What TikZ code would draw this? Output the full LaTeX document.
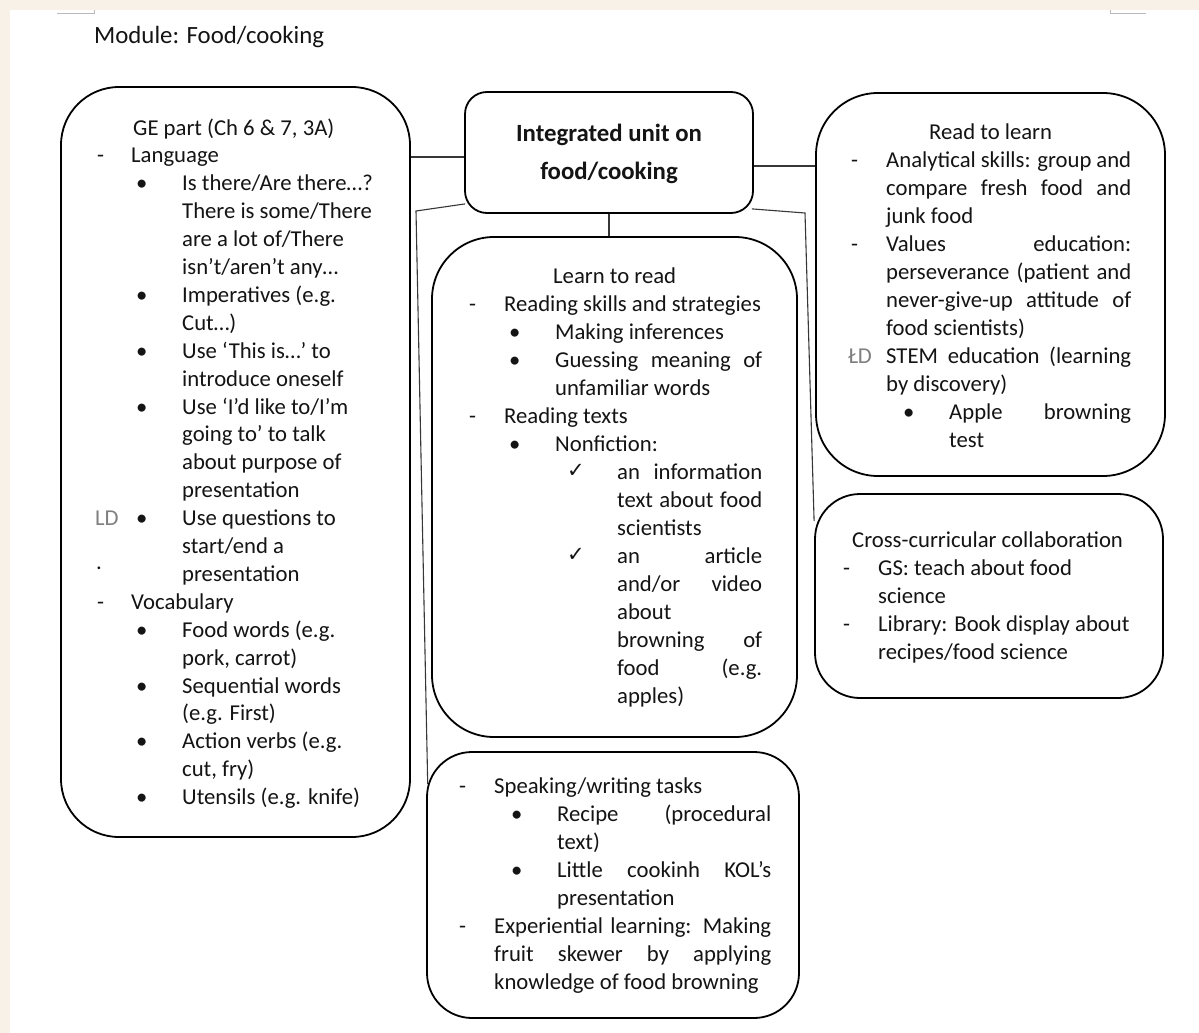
\documentclass[tikz,border=0pt]{standalone}
\usepackage{fontspec}
\setmainfont{Carlito}
\newfontfamily\symf{DejaVu Sans}
\usetikzlibrary{calc}
\definecolor{cream}{HTML}{F8F1E7}
\definecolor{ink}{HTML}{141414}
\definecolor{ldgray}{HTML}{7F7F7F}
\definecolor{markgray}{HTML}{B8B8B8}
\newcounter{tn}
\newcommand\bodyf{\fontsize{22.7}{28}\selectfont}
\newcommand\headf{\fontsize{24.8}{30}\selectfont}
\newcommand\tl[4][]{\stepcounter{tn}\node[txt,#1] (t\arabic{tn}) at (#2,#3) {#4};}
\newcommand\jl[4]{\stepcounter{tn}\node[txt] (t\arabic{tn}) at (#1,#3) {\makebox[\dimexpr#2pt-#1pt\relax][s]{#4}};}
\newcommand\chk[2]{\stepcounter{tn}\node[txt] (t\arabic{tn}) at (#1,#2) {\symf\fontsize{21}{21}\selectfont ✓};}
\begin{document}
\begin{tikzpicture}[x=1pt,y=-1pt,
  box/.style={draw=black, line width=1.8pt, rounded corners=#1, inner sep=0pt},
  conn/.style={draw=ink!85, line width=1.1pt},
  txt/.style={anchor=base west, inner sep=0pt, font=\bodyf, text=ink}]
\useasboundingbox (0,0) rectangle (1199,1033);
\fill[cream] (0,0) rectangle (1199,1033);
\fill[white] (10,10) rectangle (1199,1033);
% page corner marks
\draw[markgray, line width=1pt] (57,14) -- (94,14) -- (94,10);
\draw[markgray, line width=1pt] (1146,14) -- (1110,14) -- (1110,10);

\node[txt, font=\headf] (module) at (94,44) {Module: Food/cooking};

% boxes
\node[box=58pt, minimum width=349pt, minimum height=750pt] (ge) at (235.5,462) {};
\node[box=22pt, minimum width=288pt, minimum height=121pt] (central) at (609,152.5) {};
\node[box=62pt, minimum width=349pt, minimum height=383pt] (rtl) at (990.5,284.5) {};
\node[box=62pt, minimum width=365pt, minimum height=500pt] (learn) at (614.5,487) {};
\node[box=45pt, minimum width=348pt, minimum height=204pt] (cross) at (989,596) {};
\node[box=45pt, minimum width=372pt, minimum height=266pt] (speak) at (613,885) {};

% connectors
\coordinate (cl) at ([yshift=-4.5pt]central.west);
\draw[conn] (cl) -- (cl -| ge.east);
\coordinate (cr) at ([yshift=-13.5pt]central.east);
\draw[conn] (cr) -- (cr -| rtl.west);
\draw[conn] (central.south) -- (central.south |- learn.north);
\coordinate (kl) at (416,211);
\draw[conn] ([shift={(1pt,10pt)}]central.south west) -- (kl) -- ([shift={(1.6pt,-33pt)}]speak.north west);
\coordinate (kr) at (805,213);
\draw[conn] ([shift={(-2pt,5pt)}]central.south east) -- (kr) -- ([yshift=75pt]cross.west);

% central text
\node[font=\headf\bfseries, text=ink, anchor=base, inner sep=0pt] (c1) at (609,141) {Integrated unit on};
\node[font=\headf\bfseries, text=ink, anchor=base, inner sep=0pt] (c2) at (609,179) {food/cooking};

% GE box
\tl{133}{135}{GE part (Ch 6 \& 7, 3A)}
\tl{97}{162.9}{-} \tl{131}{162.9}{Language}
\tl{136}{190.8}{•} \tl{182}{190.8}{Is there/Are there…?}
\tl{182}{218.7}{There is some/There}
\tl{182}{246.6}{are a lot of/There}
\tl{182}{274.5}{isn’t/aren’t any…}
\tl{136}{302.4}{•} \tl{182}{302.4}{Imperatives (e.g.}
\tl{182}{330.3}{Cut…)}
\tl{136}{358.2}{•} \tl{182}{358.2}{Use ‘This is…’ to}
\tl{182}{386.1}{introduce oneself}
\tl{136}{414}{•} \tl{182}{414}{Use ‘I’d like to/I’m}
\tl{182}{441.9}{going to’ to talk}
\tl{182}{469.8}{about purpose of}
\tl{182}{497.7}{presentation}
\tl[text=ldgray]{95}{525.6}{LD} \tl{136}{525.6}{•} \tl{182}{525.6}{Use questions to}
\tl{182}{553.5}{start/end a}
\tl{96}{569}{.}
\tl{182}{581.4}{presentation}
\tl{97}{609.3}{-} \tl{131}{609.3}{Vocabulary}
\tl{136}{637.2}{•} \tl{182}{637.2}{Food words (e.g.}
\tl{182}{665.1}{pork, carrot)}
\tl{136}{693}{•} \tl{182}{693}{Sequential words}
\tl{182}{720.9}{(e.g. First)}
\tl{136}{748.8}{•} \tl{182}{748.8}{Action verbs (e.g.}
\tl{182}{776.7}{cut, fry)}
\tl{136}{804.6}{•} \tl{182}{804.6}{Utensils (e.g. knife)}

% Read to learn box
\tl{929}{139}{Read to learn}
\tl{851}{167}{-} \jl{886}{1131}{167}{Analytical skills: group and}
\jl{886}{1131}{195}{compare fresh food and}
\tl{886}{223}{junk food}
\tl{851}{251}{-} \jl{886}{1131}{251}{Values education:}
\jl{886}{1131}{279}{perseverance (patient and}
\jl{886}{1131}{307}{never-give-up attitude of}
\tl{886}{335}{food scientists)}
\tl[text=ldgray]{848}{363}{ŁD} \jl{886}{1131}{363}{STEM education (learning}
\tl{886}{391}{by discovery)}
\tl{903}{419}{•} \jl{949}{1131}{419}{Apple browning}
\tl{949}{447}{test}

% Learn to read box
\tl{553}{283}{Learn to read}
\tl{469}{311}{-} \tl{504}{311}{Reading skills and strategies}
\tl{509}{339}{•} \tl{555}{339}{Making inferences}
\tl{509}{367}{•} \jl{555}{762}{367}{Guessing meaning of}
\tl{555}{395}{unfamiliar words}
\tl{469}{423}{-} \tl{504}{423}{Reading texts}
\tl{509}{451}{•} \tl{555}{451}{Nonfiction:}
\chk{567}{477} \jl{617}{762}{479}{an information}
\jl{617}{762}{507}{text about food}
\tl{617}{535}{scientists}
\chk{567}{561} \jl{617}{762}{563}{an article}
\jl{617}{762}{591}{and/or video}
\tl{617}{619}{about}
\jl{617}{762}{647}{browning of}
\jl{617}{762}{675}{food (e.g.}
\tl{617}{703}{apples)}

% Cross-curricular box
\tl{852}{547}{Cross-curricular collaboration}
\tl{843}{575}{-} \tl{878}{575}{GS: teach about food}
\tl{878}{603}{science}
\tl{843}{631}{-} \tl{878}{631}{Library: Book display about}
\tl{878}{659}{recipes/food science}

% Speaking box
\tl{459}{793}{-} \tl{494}{793}{Speaking/writing tasks}
\tl{511}{821}{•} \jl{557}{771}{821}{Recipe (procedural}
\tl{557}{849}{text)}
\tl{511}{877}{•} \jl{557}{771}{877}{Little cookinh KOL’s}
\tl{557}{905}{presentation}
\tl{459}{933}{-} \jl{494}{771}{933}{Experiential learning: Making}
\jl{494}{771}{961}{fruit skewer by applying}
\tl{494}{989}{knowledge of food browning}
\end{tikzpicture}
\end{document}
